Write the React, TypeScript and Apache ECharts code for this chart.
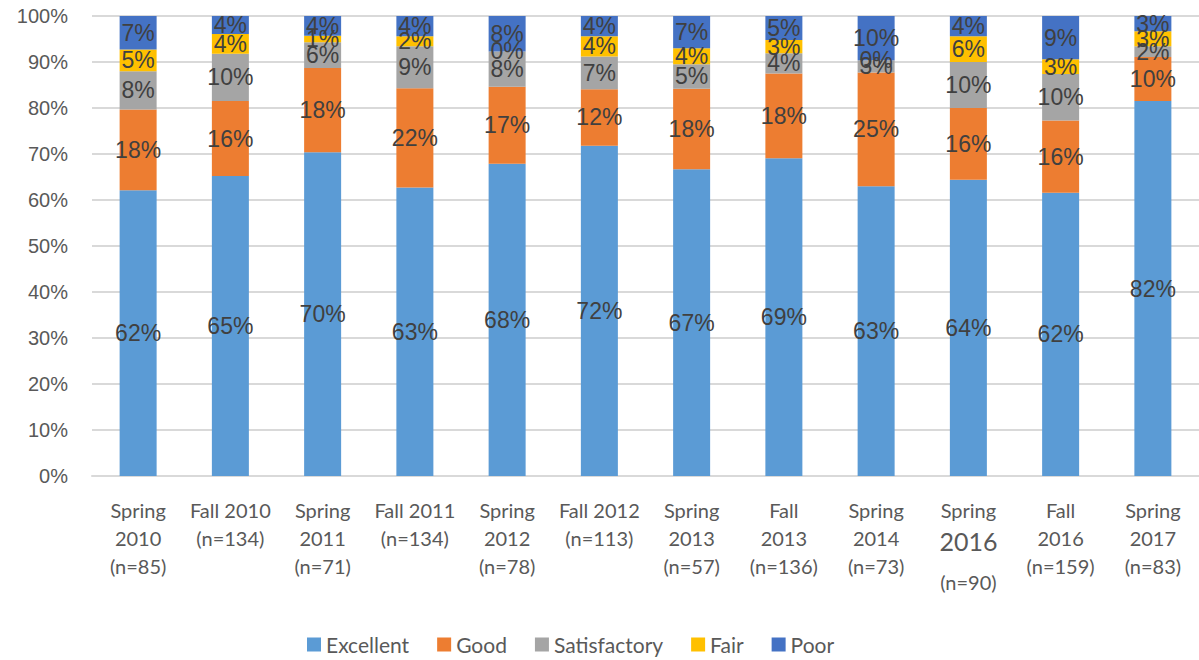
import React, { useEffect, useRef } from "react";
import * as echarts from "echarts";

const categories = [
  "Spring\n2010\n(n=85)",
  "Fall 2010\n(n=134)",
  "Spring\n2011\n(n=71)",
  "Fall 2011\n(n=134)",
  "Spring\n2012\n(n=78)",
  "Fall 2012\n(n=113)",
  "Spring\n2013\n(n=57)",
  "Fall\n2013\n(n=136)",
  "Spring\n2014\n(n=73)",
  "Spring\n2016\n(n=90)",
  "Fall\n2016\n(n=159)",
  "Spring\n2017\n(n=83)",
];

const excellent = [62.1, 65.2, 70.4, 62.7, 67.9, 71.8, 66.7, 69.1, 63.0, 64.4, 61.6, 81.5];
const good = [17.6, 16.3, 18.3, 21.6, 16.7, 12.3, 17.5, 18.4, 24.7, 15.6, 15.7, 9.6];
const satisfactory = [8.3, 10.3, 5.6, 9.1, 7.7, 7.1, 5.3, 4.4, 2.7, 10.0, 10.1, 2.3];
const fair = [4.7, 4.3, 1.4, 2.2, 0, 4.4, 3.5, 2.9, 0, 5.6, 3.2, 3.3];
const poor = [7.3, 3.9, 4.3, 4.4, 7.7, 4.4, 7.0, 5.2, 9.6, 4.4, 9.4, 3.3];

const seriesDefs = [
  { name: "Excellent", data: excellent, color: "#5B9BD5" },
  { name: "Good", data: good, color: "#ED7D31" },
  { name: "Satisfactory", data: satisfactory, color: "#A5A5A5" },
  { name: "Fair", data: fair, color: "#FFC000" },
  { name: "Poor", data: poor, color: "#4472C4" },
];

export default function App() {
  const ref = useRef<HTMLDivElement>(null);
  useEffect(() => {
    if (!ref.current) return;
    const chart = echarts.init(ref.current, null, { renderer: "svg" });
    chart.setOption({
      animation: false,
      backgroundColor: "#ffffff",
      grid: { left: 92, right: 0, top: 16, bottom: 184, containLabel: false },
      legend: {
        bottom: 0,
        left: 302,
        itemWidth: 14,
        itemHeight: 14,
        itemGap: 28,
        icon: "rect",
        textStyle: { fontFamily: "Lato", fontSize: 21, color: "#595959" },
        data: seriesDefs.map((s) => s.name),
      },
      xAxis: {
        type: "category",
        data: categories,
        axisLine: { show: true, lineStyle: { color: "#d9d9d9", width: 2 } },
        axisTick: { show: false },
        axisLabel: {
          interval: 0,
          margin: 20,
          fontFamily: "Lato",
          fontSize: 20,
          color: "#595959",
          lineHeight: 28,
          formatter: (v: string) => {
            if (v === "Spring\n2016\n(n=90)") {
              const parts = v.split("\n");
              return parts[0] + "\n{big|" + parts[1] + "}\n{low|" + parts[2] + "}";
            }
            return v;
          },
          rich: {
            big: { fontFamily: "Lato", fontSize: 25, color: "#595959", lineHeight: 34 },
            low: { fontFamily: "Lato", fontSize: 20, color: "#595959", lineHeight: 48 },
          },
        },
      },
      yAxis: {
        type: "value",
        min: 0,
        max: 100,
        interval: 10,
        axisLine: { show: false },
        axisTick: { show: false },
        splitLine: { lineStyle: { color: "#d9d9d9", width: 2 } },
        axisLabel: {
          formatter: (v: number) => v + "%",
          fontFamily: "Liberation Sans",
          fontSize: 20,
          color: "#595959",
          margin: 24,
        },
      },
      series: seriesDefs.map((s) => ({
        name: s.name,
        type: "bar",
        stack: "total",
        barWidth: 37,
        data: s.data,
        itemStyle: { color: s.color },
        label: {
          show: true,
          position: "inside",
          formatter: (p: any) => Math.round(p.value) + "%",
          fontFamily: "Liberation Sans",
          fontSize: 23,
          color: "#404040",
        },
      })),
    });
    return () => chart.dispose();
  }, []);
  return (
    <div
      ref={ref}
      style={{ position: "fixed", left: 0, top: 0, width: 1199, height: 660 }}
    />
  );
}
